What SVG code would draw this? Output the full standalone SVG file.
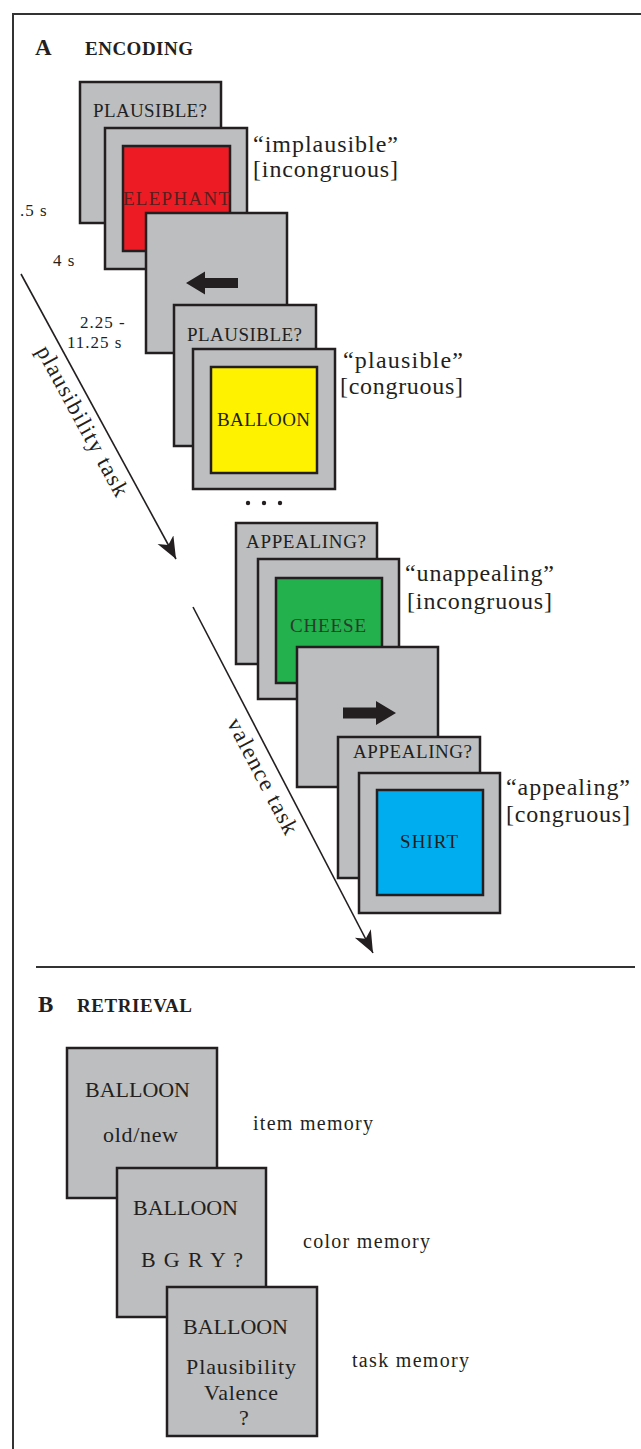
<svg xmlns="http://www.w3.org/2000/svg" width="641" height="1449" viewBox="0 0 641 1449">
<style>
.bg{fill:#ffffff}
.frame{fill:none;stroke:#333333;stroke-width:2}
.panel{fill:#bcbec0;stroke:#231f20;stroke-width:2.5}
.inner{stroke:#231f20;stroke-width:2.5}
.t{font-family:"Liberation Serif","Times New Roman",serif;fill:#231f20}
.h{font-family:"Liberation Serif","Times New Roman",serif;fill:#231f20;font-weight:bold}
.q{font-size:19px}
.lab{font-size:24px}
.tm{font-size:17px;letter-spacing:1px}
.rt{font-size:22px}
.mem{font-size:20px}
.conn{stroke:#231f20;stroke-width:1.6;fill:none}
.bar{fill:#231f20}
</style>
<defs>
<marker id="ah" markerUnits="userSpaceOnUse" markerWidth="30" markerHeight="24" refX="22" refY="9" orient="auto">
<path d="M0,0 L22,9 L0,18 L6,9 z" fill="#231f20"/>
</marker>
</defs>
<rect class="bg" x="0" y="0" width="641" height="1449"/>
<g id="frame">
<path class="frame" d="M13,1449 L13,14 L641,14"/>
<line x1="36" y1="967" x2="635" y2="967" stroke="#333333" stroke-width="2"/>
</g>
<g id="headings">
<text class="h" x="35" y="55" font-size="23">A</text>
<text class="h" x="85" y="55" font-size="19" textLength="108" lengthAdjust="spacing">ENCODING</text>
<text class="h" x="38" y="1012" font-size="23">B</text>
<text class="h" x="77" y="1012" font-size="19" textLength="115" lengthAdjust="spacing">RETRIEVAL</text>
</g>
<g id="connectors">
<line class="conn" x1="21" y1="274" x2="176" y2="559" marker-end="url(#ah)"/>
<line class="conn" x1="193" y1="607" x2="373" y2="953" marker-end="url(#ah)"/>
<text class="t" font-size="23" text-anchor="middle" textLength="168" lengthAdjust="spacing" transform="translate(76,424.5) rotate(61.45)">plausibility task</text>
<text class="t" font-size="23" text-anchor="middle" textLength="128" lengthAdjust="spacing" transform="translate(256,779.5) rotate(62.5)">valence task</text>
</g>
<g id="timing">
<text class="t tm" x="20" y="216">.5 s</text>
<text class="t tm" x="53" y="266">4 s</text>
<text class="t tm" x="80" y="328">2.25 -</text>
<text class="t tm" x="67" y="348">11.25 s</text>
</g>
<g id="p1">
<rect class="panel" x="80" y="82" width="141" height="141"/>
<text class="t q" x="93" y="117" textLength="114" lengthAdjust="spacing">PLAUSIBLE?</text>
</g>
<g id="p2">
<rect class="panel" x="105" y="128" width="142" height="141"/>
<rect class="inner" x="123" y="146" width="107" height="105" fill="#ed1c24"/>
<text class="t q" x="123" y="205" textLength="107" lengthAdjust="spacing" style="fill:#5a1e1e">ELEPHANT</text>
</g>
<g id="label1">
<text class="t lab" x="253" y="152" textLength="145" lengthAdjust="spacing">“implausible”</text>
<text class="t lab" x="253" y="177" textLength="145" lengthAdjust="spacing">[incongruous]</text>
</g>
<g id="p3">
<rect class="panel" x="146" y="213" width="141" height="140"/>
<path class="bar" d="M186,283 L205,271.5 L205,278 L238,278 L238,288 L205,288 L205,294.5 z"/>
</g>
<g id="p4">
<rect class="panel" x="174" y="305" width="142" height="141"/>
<text class="t q" x="187" y="341" textLength="115" lengthAdjust="spacing">PLAUSIBLE?</text>
</g>
<g id="p5">
<rect class="panel" x="193" y="349" width="142" height="140"/>
<rect class="inner" x="211" y="367" width="106" height="106" fill="#fff200"/>
<text class="t q" x="217" y="426" textLength="93" lengthAdjust="spacing">BALLOON</text>
</g>
<g id="label2">
<text class="t lab" x="343" y="368" textLength="120" lengthAdjust="spacing">“plausible”</text>
<text class="t lab" x="340" y="394" textLength="123" lengthAdjust="spacing">[congruous]</text>
</g>
<g id="dots">
<circle cx="248" cy="503" r="2.2" fill="#231f20"/>
<circle cx="264" cy="503" r="2.2" fill="#231f20"/>
<circle cx="280" cy="503" r="2.2" fill="#231f20"/>
</g>
<g id="p6">
<rect class="panel" x="236" y="523" width="141" height="141"/>
<text class="t q" x="246" y="548" textLength="120" lengthAdjust="spacing">APPEALING?</text>
</g>
<g id="p7">
<rect class="panel" x="258" y="559" width="141" height="140"/>
<rect class="inner" x="276" y="578" width="106" height="105" fill="#22b14c"/>
<text class="t q" x="290" y="632" textLength="76" lengthAdjust="spacing" style="fill:#2b3a2e">CHEESE</text>
</g>
<g id="label3">
<text class="t lab" x="405" y="581" textLength="149" lengthAdjust="spacing">“unappealing”</text>
<text class="t lab" x="407" y="609" textLength="145" lengthAdjust="spacing">[incongruous]</text>
</g>
<g id="p8">
<rect class="panel" x="297" y="647" width="141" height="140"/>
<path class="bar" d="M396,713 L376,701 L376,707.5 L343,707.5 L343,718.5 L376,718.5 L376,725 z"/>
</g>
<g id="p9">
<rect class="panel" x="338" y="737" width="142" height="141"/>
<text class="t q" x="353" y="758" textLength="119" lengthAdjust="spacing">APPEALING?</text>
</g>
<g id="p10">
<rect class="panel" x="359" y="773" width="141" height="140"/>
<rect class="inner" x="377" y="790" width="106" height="105" fill="#00aeef"/>
<text class="t q" x="400" y="848" textLength="58" lengthAdjust="spacing">SHIRT</text>
</g>
<g id="label4">
<text class="t lab" x="506" y="795" textLength="124" lengthAdjust="spacing">“appealing”</text>
<text class="t lab" x="506" y="822" textLength="124" lengthAdjust="spacing">[congruous]</text>
</g>
<g id="r1">
<rect class="panel" x="67" y="1048" width="150" height="150"/>
<text class="t rt" x="85" y="1097" textLength="105" lengthAdjust="spacing">BALLOON</text>
<text class="t rt" x="103" y="1142" textLength="75" lengthAdjust="spacing">old/new</text>
</g>
<g id="r1label">
<text class="t mem" x="253" y="1130" textLength="120" lengthAdjust="spacing">item memory</text>
</g>
<g id="r2">
<rect class="panel" x="117" y="1168" width="149" height="149"/>
<text class="t rt" x="133" y="1215" textLength="105" lengthAdjust="spacing">BALLOON</text>
<text class="t rt" x="141" y="1267" textLength="102" lengthAdjust="spacing">B G R Y ?</text>
</g>
<g id="r2label">
<text class="t mem" x="303" y="1248" textLength="127" lengthAdjust="spacing">color memory</text>
</g>
<g id="r3">
<rect class="panel" x="167" y="1287" width="150" height="149"/>
<text class="t rt" x="183" y="1334" textLength="105" lengthAdjust="spacing">BALLOON</text>
<text class="t rt" x="186" y="1374" textLength="110" lengthAdjust="spacing">Plausibility</text>
<text class="t rt" x="204" y="1400" textLength="74" lengthAdjust="spacing">Valence</text>
<text class="t rt" x="244" y="1425" text-anchor="middle">?</text>
</g>
<g id="r3label">
<text class="t mem" x="352" y="1367" textLength="117" lengthAdjust="spacing">task memory</text>
</g>
</svg>
